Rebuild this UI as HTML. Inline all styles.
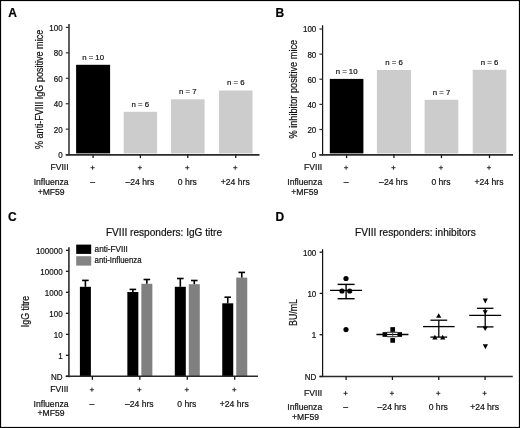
<!DOCTYPE html>
<html><head><meta charset="utf-8"><style>
html,body{margin:0;padding:0;background:#fff;}
body{width:520px;height:428px;overflow:hidden;}
svg{display:block;font-family:"Liberation Sans", sans-serif;filter:grayscale(1);}
text{stroke:#111;stroke-width:0.2px;}
</style></head><body>
<svg width="520" height="428" viewBox="0 0 520 428">
<rect x="0" y="0" width="520" height="428" fill="#fff"/>
<text x="8.20" y="17.10" font-size="12" text-anchor="start" font-weight="bold" fill="#000" >A</text>
<rect x="76.10" y="64.80" width="34.00" height="88.60" fill="#000"/>
<text x="93.10" y="59.79" font-size="7.8" text-anchor="middle" font-weight="normal" fill="#111" >n = 10</text>
<rect x="123.70" y="111.80" width="33.40" height="41.60" fill="#cccccc"/>
<text x="140.40" y="106.79" font-size="7.8" text-anchor="middle" font-weight="normal" fill="#111" >n = 6</text>
<rect x="171.00" y="99.30" width="33.60" height="54.10" fill="#cccccc"/>
<text x="187.80" y="94.29" font-size="7.8" text-anchor="middle" font-weight="normal" fill="#111" >n = 7</text>
<rect x="219.00" y="90.50" width="33.50" height="62.90" fill="#cccccc"/>
<text x="235.75" y="85.49" font-size="7.8" text-anchor="middle" font-weight="normal" fill="#111" >n = 6</text>
<line x1="69.00" y1="24.10" x2="69.00" y2="155.60" stroke="#444" stroke-width="1.7"/>
<line x1="65.80" y1="154.85" x2="259.50" y2="154.85" stroke="#2a2a2a" stroke-width="1.7"/>
<line x1="65.80" y1="154.60" x2="69.00" y2="154.60" stroke="#333" stroke-width="1.2"/>
<text x="62.70" y="157.98" font-size="8.6" text-anchor="end" font-weight="normal" fill="#111" textLength="4.45" lengthAdjust="spacingAndGlyphs">0</text>
<line x1="65.80" y1="129.16" x2="69.00" y2="129.16" stroke="#333" stroke-width="1.2"/>
<text x="62.70" y="132.54" font-size="8.6" text-anchor="end" font-weight="normal" fill="#111" textLength="8.90" lengthAdjust="spacingAndGlyphs">20</text>
<line x1="65.80" y1="103.72" x2="69.00" y2="103.72" stroke="#333" stroke-width="1.2"/>
<text x="62.70" y="107.10" font-size="8.6" text-anchor="end" font-weight="normal" fill="#111" textLength="8.90" lengthAdjust="spacingAndGlyphs">40</text>
<line x1="65.80" y1="78.28" x2="69.00" y2="78.28" stroke="#333" stroke-width="1.2"/>
<text x="62.70" y="81.66" font-size="8.6" text-anchor="end" font-weight="normal" fill="#111" textLength="8.90" lengthAdjust="spacingAndGlyphs">60</text>
<line x1="65.80" y1="52.84" x2="69.00" y2="52.84" stroke="#333" stroke-width="1.2"/>
<text x="62.70" y="56.22" font-size="8.6" text-anchor="end" font-weight="normal" fill="#111" textLength="8.90" lengthAdjust="spacingAndGlyphs">80</text>
<line x1="65.80" y1="27.40" x2="69.00" y2="27.40" stroke="#333" stroke-width="1.2"/>
<text x="62.70" y="30.78" font-size="8.6" text-anchor="end" font-weight="normal" fill="#111" textLength="13.34" lengthAdjust="spacingAndGlyphs">100</text>
<line x1="93.10" y1="154.60" x2="93.10" y2="158.10" stroke="#1a1a1a" stroke-width="1.3"/>
<line x1="140.40" y1="154.60" x2="140.40" y2="158.10" stroke="#1a1a1a" stroke-width="1.3"/>
<line x1="187.80" y1="154.60" x2="187.80" y2="158.10" stroke="#1a1a1a" stroke-width="1.3"/>
<line x1="235.75" y1="154.60" x2="235.75" y2="158.10" stroke="#1a1a1a" stroke-width="1.3"/>
<text x="68.60" y="170.08" font-size="8.6" text-anchor="end" font-weight="normal" fill="#111" >FVIII</text>
<text x="68.60" y="184.68" font-size="8.6" text-anchor="end" font-weight="normal" fill="#111" >Influenza</text>
<text x="51.15" y="194.78" font-size="8.6" text-anchor="middle" font-weight="normal" fill="#111" >+MF59</text>
<line x1="90.50" y1="167.70" x2="94.70" y2="167.70" stroke="#333" stroke-width="1.0"/>
<line x1="92.60" y1="165.60" x2="92.60" y2="169.80" stroke="#333" stroke-width="1.0"/>
<text x="92.60" y="184.68" font-size="8.6" text-anchor="middle" font-weight="normal" fill="#111" >–</text>
<line x1="137.80" y1="167.70" x2="142.00" y2="167.70" stroke="#333" stroke-width="1.0"/>
<line x1="139.90" y1="165.60" x2="139.90" y2="169.80" stroke="#333" stroke-width="1.0"/>
<text x="139.90" y="184.68" font-size="8.6" text-anchor="middle" font-weight="normal" fill="#111" >–24 hrs</text>
<line x1="185.20" y1="167.70" x2="189.40" y2="167.70" stroke="#333" stroke-width="1.0"/>
<line x1="187.30" y1="165.60" x2="187.30" y2="169.80" stroke="#333" stroke-width="1.0"/>
<text x="187.30" y="184.68" font-size="8.6" text-anchor="middle" font-weight="normal" fill="#111" >0 hrs</text>
<line x1="233.15" y1="167.70" x2="237.35" y2="167.70" stroke="#333" stroke-width="1.0"/>
<line x1="235.25" y1="165.60" x2="235.25" y2="169.80" stroke="#333" stroke-width="1.0"/>
<text x="235.25" y="184.68" font-size="8.6" text-anchor="middle" font-weight="normal" fill="#111" >+24 hrs</text>
<text x="0" y="0" font-size="10.2" text-anchor="middle" fill="#111" textLength="119.2" lengthAdjust="spacingAndGlyphs" transform="translate(43.00,89.40) rotate(-90)">% anti-FVIII IgG positive mice</text>
<text x="275.60" y="17.40" font-size="12" text-anchor="start" font-weight="bold" fill="#000" >B</text>
<rect x="329.80" y="78.90" width="33.60" height="74.50" fill="#000"/>
<text x="346.60" y="73.89" font-size="7.8" text-anchor="middle" font-weight="normal" fill="#111" >n = 10</text>
<rect x="376.90" y="70.00" width="34.10" height="83.40" fill="#cccccc"/>
<text x="393.95" y="64.99" font-size="7.8" text-anchor="middle" font-weight="normal" fill="#111" >n = 6</text>
<rect x="424.60" y="99.80" width="33.70" height="53.60" fill="#cccccc"/>
<text x="441.45" y="94.79" font-size="7.8" text-anchor="middle" font-weight="normal" fill="#111" >n = 7</text>
<rect x="472.70" y="69.80" width="33.60" height="83.60" fill="#cccccc"/>
<text x="489.50" y="64.79" font-size="7.8" text-anchor="middle" font-weight="normal" fill="#111" >n = 6</text>
<line x1="322.60" y1="25.20" x2="322.60" y2="155.60" stroke="#111" stroke-width="1.2"/>
<line x1="319.40" y1="154.85" x2="513.00" y2="154.85" stroke="#2a2a2a" stroke-width="1.7"/>
<line x1="319.40" y1="154.60" x2="322.60" y2="154.60" stroke="#333" stroke-width="1.2"/>
<text x="316.30" y="157.98" font-size="8.6" text-anchor="end" font-weight="normal" fill="#111" textLength="4.45" lengthAdjust="spacingAndGlyphs">0</text>
<line x1="319.40" y1="129.48" x2="322.60" y2="129.48" stroke="#333" stroke-width="1.2"/>
<text x="316.30" y="132.86" font-size="8.6" text-anchor="end" font-weight="normal" fill="#111" textLength="8.90" lengthAdjust="spacingAndGlyphs">20</text>
<line x1="319.40" y1="104.36" x2="322.60" y2="104.36" stroke="#333" stroke-width="1.2"/>
<text x="316.30" y="107.74" font-size="8.6" text-anchor="end" font-weight="normal" fill="#111" textLength="8.90" lengthAdjust="spacingAndGlyphs">40</text>
<line x1="319.40" y1="79.24" x2="322.60" y2="79.24" stroke="#333" stroke-width="1.2"/>
<text x="316.30" y="82.62" font-size="8.6" text-anchor="end" font-weight="normal" fill="#111" textLength="8.90" lengthAdjust="spacingAndGlyphs">60</text>
<line x1="319.40" y1="54.12" x2="322.60" y2="54.12" stroke="#333" stroke-width="1.2"/>
<text x="316.30" y="57.50" font-size="8.6" text-anchor="end" font-weight="normal" fill="#111" textLength="8.90" lengthAdjust="spacingAndGlyphs">80</text>
<line x1="319.40" y1="29.00" x2="322.60" y2="29.00" stroke="#333" stroke-width="1.2"/>
<text x="316.30" y="32.38" font-size="8.6" text-anchor="end" font-weight="normal" fill="#111" textLength="13.34" lengthAdjust="spacingAndGlyphs">100</text>
<line x1="346.60" y1="154.60" x2="346.60" y2="158.10" stroke="#1a1a1a" stroke-width="1.3"/>
<line x1="393.95" y1="154.60" x2="393.95" y2="158.10" stroke="#1a1a1a" stroke-width="1.3"/>
<line x1="441.45" y1="154.60" x2="441.45" y2="158.10" stroke="#1a1a1a" stroke-width="1.3"/>
<line x1="489.50" y1="154.60" x2="489.50" y2="158.10" stroke="#1a1a1a" stroke-width="1.3"/>
<text x="322.20" y="170.08" font-size="8.6" text-anchor="end" font-weight="normal" fill="#111" >FVIII</text>
<text x="322.20" y="184.68" font-size="8.6" text-anchor="end" font-weight="normal" fill="#111" >Influenza</text>
<text x="304.75" y="194.78" font-size="8.6" text-anchor="middle" font-weight="normal" fill="#111" >+MF59</text>
<line x1="344.00" y1="167.70" x2="348.20" y2="167.70" stroke="#333" stroke-width="1.0"/>
<line x1="346.10" y1="165.60" x2="346.10" y2="169.80" stroke="#333" stroke-width="1.0"/>
<text x="346.10" y="184.68" font-size="8.6" text-anchor="middle" font-weight="normal" fill="#111" >–</text>
<line x1="391.35" y1="167.70" x2="395.55" y2="167.70" stroke="#333" stroke-width="1.0"/>
<line x1="393.45" y1="165.60" x2="393.45" y2="169.80" stroke="#333" stroke-width="1.0"/>
<text x="393.45" y="184.68" font-size="8.6" text-anchor="middle" font-weight="normal" fill="#111" >–24 hrs</text>
<line x1="438.85" y1="167.70" x2="443.05" y2="167.70" stroke="#333" stroke-width="1.0"/>
<line x1="440.95" y1="165.60" x2="440.95" y2="169.80" stroke="#333" stroke-width="1.0"/>
<text x="440.95" y="184.68" font-size="8.6" text-anchor="middle" font-weight="normal" fill="#111" >0 hrs</text>
<line x1="486.90" y1="167.70" x2="491.10" y2="167.70" stroke="#333" stroke-width="1.0"/>
<line x1="489.00" y1="165.60" x2="489.00" y2="169.80" stroke="#333" stroke-width="1.0"/>
<text x="489.00" y="184.68" font-size="8.6" text-anchor="middle" font-weight="normal" fill="#111" >+24 hrs</text>
<text x="0" y="0" font-size="10.3" text-anchor="middle" fill="#111" textLength="98.75" lengthAdjust="spacingAndGlyphs" transform="translate(296.90,89.20) rotate(-90)">% inhibitor positive mice</text>
<text x="8.00" y="221.20" font-size="12" text-anchor="start" font-weight="bold" fill="#000" >C</text>
<text x="164.00" y="235.92" font-size="10.1" text-anchor="middle" font-weight="normal" fill="#111" >FVIII responders: IgG titre</text>
<rect x="76.20" y="244.60" width="15.00" height="9.30" fill="#000"/>
<rect x="76.20" y="256.20" width="15.00" height="9.40" fill="#838383"/>
<text x="94.60" y="251.54" font-size="8.2" text-anchor="start" font-weight="normal" fill="#111" >anti-FVIII</text>
<text x="94.60" y="263.34" font-size="8.2" text-anchor="start" font-weight="normal" fill="#111" textLength="47" lengthAdjust="spacingAndGlyphs">anti-Influenza</text>
<rect x="79.90" y="286.80" width="11.00" height="89.50" fill="#000"/>
<line x1="85.40" y1="286.80" x2="85.40" y2="280.40" stroke="#000" stroke-width="1.6"/>
<line x1="82.10" y1="280.40" x2="88.70" y2="280.40" stroke="#000" stroke-width="1.6"/>
<rect x="127.35" y="292.00" width="11.00" height="84.30" fill="#000"/>
<line x1="132.85" y1="292.00" x2="132.85" y2="289.40" stroke="#000" stroke-width="1.6"/>
<line x1="129.55" y1="289.40" x2="136.15" y2="289.40" stroke="#000" stroke-width="1.6"/>
<rect x="141.35" y="283.80" width="11.00" height="92.50" fill="#808080"/>
<line x1="146.85" y1="283.80" x2="146.85" y2="279.50" stroke="#000" stroke-width="1.6"/>
<line x1="143.55" y1="279.50" x2="150.15" y2="279.50" stroke="#000" stroke-width="1.6"/>
<rect x="174.80" y="286.80" width="11.00" height="89.50" fill="#000"/>
<line x1="180.30" y1="286.80" x2="180.30" y2="278.50" stroke="#000" stroke-width="1.6"/>
<line x1="177.00" y1="278.50" x2="183.60" y2="278.50" stroke="#000" stroke-width="1.6"/>
<rect x="188.80" y="284.20" width="11.00" height="92.10" fill="#808080"/>
<line x1="194.30" y1="284.20" x2="194.30" y2="280.50" stroke="#000" stroke-width="1.6"/>
<line x1="191.00" y1="280.50" x2="197.60" y2="280.50" stroke="#000" stroke-width="1.6"/>
<rect x="222.25" y="303.30" width="11.00" height="73.00" fill="#000"/>
<line x1="227.75" y1="303.30" x2="227.75" y2="297.20" stroke="#000" stroke-width="1.6"/>
<line x1="224.45" y1="297.20" x2="231.05" y2="297.20" stroke="#000" stroke-width="1.6"/>
<rect x="236.25" y="277.60" width="11.00" height="98.70" fill="#808080"/>
<line x1="241.75" y1="277.60" x2="241.75" y2="272.40" stroke="#000" stroke-width="1.6"/>
<line x1="238.45" y1="272.40" x2="245.05" y2="272.40" stroke="#000" stroke-width="1.6"/>
<line x1="68.90" y1="247.30" x2="68.90" y2="377.20" stroke="#444" stroke-width="1.8"/>
<line x1="65.70" y1="376.30" x2="258.00" y2="376.30" stroke="#2a2a2a" stroke-width="1.5"/>
<line x1="65.90" y1="376.30" x2="68.90" y2="376.30" stroke="#1a1a1a" stroke-width="1.3"/>
<text x="62.60" y="379.68" font-size="8.6" text-anchor="end" font-weight="normal" fill="#111" textLength="11.55" lengthAdjust="spacingAndGlyphs">ND</text>
<line x1="65.90" y1="355.30" x2="68.90" y2="355.30" stroke="#1a1a1a" stroke-width="1.3"/>
<text x="62.60" y="358.68" font-size="8.6" text-anchor="end" font-weight="normal" fill="#111" textLength="4.45" lengthAdjust="spacingAndGlyphs">1</text>
<line x1="65.90" y1="334.30" x2="68.90" y2="334.30" stroke="#1a1a1a" stroke-width="1.3"/>
<text x="62.60" y="337.68" font-size="8.6" text-anchor="end" font-weight="normal" fill="#111" textLength="8.90" lengthAdjust="spacingAndGlyphs">10</text>
<line x1="65.90" y1="313.30" x2="68.90" y2="313.30" stroke="#1a1a1a" stroke-width="1.3"/>
<text x="62.60" y="316.68" font-size="8.6" text-anchor="end" font-weight="normal" fill="#111" textLength="13.34" lengthAdjust="spacingAndGlyphs">100</text>
<line x1="65.90" y1="292.30" x2="68.90" y2="292.30" stroke="#1a1a1a" stroke-width="1.3"/>
<text x="62.60" y="295.68" font-size="8.6" text-anchor="end" font-weight="normal" fill="#111" textLength="17.79" lengthAdjust="spacingAndGlyphs">1000</text>
<line x1="65.90" y1="271.30" x2="68.90" y2="271.30" stroke="#1a1a1a" stroke-width="1.3"/>
<text x="62.60" y="274.68" font-size="8.6" text-anchor="end" font-weight="normal" fill="#111" textLength="22.24" lengthAdjust="spacingAndGlyphs">10000</text>
<line x1="65.90" y1="250.30" x2="68.90" y2="250.30" stroke="#1a1a1a" stroke-width="1.3"/>
<text x="62.60" y="253.68" font-size="8.6" text-anchor="end" font-weight="normal" fill="#111" textLength="26.69" lengthAdjust="spacingAndGlyphs">100000</text>
<line x1="92.40" y1="376.30" x2="92.40" y2="379.80" stroke="#1a1a1a" stroke-width="1.3"/>
<line x1="139.85" y1="376.30" x2="139.85" y2="379.80" stroke="#1a1a1a" stroke-width="1.3"/>
<line x1="187.30" y1="376.30" x2="187.30" y2="379.80" stroke="#1a1a1a" stroke-width="1.3"/>
<line x1="234.75" y1="376.30" x2="234.75" y2="379.80" stroke="#1a1a1a" stroke-width="1.3"/>
<text x="68.50" y="392.08" font-size="8.6" text-anchor="end" font-weight="normal" fill="#111" >FVIII</text>
<text x="68.50" y="406.78" font-size="8.6" text-anchor="end" font-weight="normal" fill="#111" >Influenza</text>
<text x="51.05" y="416.08" font-size="8.6" text-anchor="middle" font-weight="normal" fill="#111" >+MF59</text>
<line x1="89.80" y1="389.70" x2="94.00" y2="389.70" stroke="#333" stroke-width="1.0"/>
<line x1="91.90" y1="387.60" x2="91.90" y2="391.80" stroke="#333" stroke-width="1.0"/>
<text x="91.90" y="406.78" font-size="8.6" text-anchor="middle" font-weight="normal" fill="#111" >–</text>
<line x1="137.25" y1="389.70" x2="141.45" y2="389.70" stroke="#333" stroke-width="1.0"/>
<line x1="139.35" y1="387.60" x2="139.35" y2="391.80" stroke="#333" stroke-width="1.0"/>
<text x="139.35" y="406.78" font-size="8.6" text-anchor="middle" font-weight="normal" fill="#111" >–24 hrs</text>
<line x1="184.70" y1="389.70" x2="188.90" y2="389.70" stroke="#333" stroke-width="1.0"/>
<line x1="186.80" y1="387.60" x2="186.80" y2="391.80" stroke="#333" stroke-width="1.0"/>
<text x="186.80" y="406.78" font-size="8.6" text-anchor="middle" font-weight="normal" fill="#111" >0 hrs</text>
<line x1="232.15" y1="389.70" x2="236.35" y2="389.70" stroke="#333" stroke-width="1.0"/>
<line x1="234.25" y1="387.60" x2="234.25" y2="391.80" stroke="#333" stroke-width="1.0"/>
<text x="234.25" y="406.78" font-size="8.6" text-anchor="middle" font-weight="normal" fill="#111" >+24 hrs</text>
<text x="0" y="0" font-size="10" text-anchor="middle" fill="#111" textLength="31.4" lengthAdjust="spacingAndGlyphs" transform="translate(28.85,311.50) rotate(-90)">IgG titre</text>
<text x="275.50" y="221.30" font-size="12" text-anchor="start" font-weight="bold" fill="#000" >D</text>
<text x="415.40" y="236.32" font-size="10.1" text-anchor="middle" font-weight="normal" fill="#111" >FVIII responders: inhibitors</text>
<line x1="322.60" y1="249.20" x2="322.60" y2="377.10" stroke="#111" stroke-width="1.2"/>
<line x1="319.40" y1="376.50" x2="512.80" y2="376.50" stroke="#2a2a2a" stroke-width="1.5"/>
<line x1="319.60" y1="376.50" x2="322.60" y2="376.50" stroke="#1a1a1a" stroke-width="1.3"/>
<text x="316.30" y="379.88" font-size="8.6" text-anchor="end" font-weight="normal" fill="#111" textLength="11.55" lengthAdjust="spacingAndGlyphs">ND</text>
<line x1="319.60" y1="334.70" x2="322.60" y2="334.70" stroke="#1a1a1a" stroke-width="1.3"/>
<text x="316.30" y="338.08" font-size="8.6" text-anchor="end" font-weight="normal" fill="#111" textLength="4.45" lengthAdjust="spacingAndGlyphs">1</text>
<line x1="319.60" y1="293.40" x2="322.60" y2="293.40" stroke="#1a1a1a" stroke-width="1.3"/>
<text x="316.30" y="296.78" font-size="8.6" text-anchor="end" font-weight="normal" fill="#111" textLength="8.90" lengthAdjust="spacingAndGlyphs">10</text>
<line x1="319.60" y1="252.20" x2="322.60" y2="252.20" stroke="#1a1a1a" stroke-width="1.3"/>
<text x="316.30" y="255.58" font-size="8.6" text-anchor="end" font-weight="normal" fill="#111" textLength="13.34" lengthAdjust="spacingAndGlyphs">100</text>
<line x1="346.10" y1="376.50" x2="346.10" y2="380.00" stroke="#1a1a1a" stroke-width="1.3"/>
<line x1="392.43" y1="376.50" x2="392.43" y2="380.00" stroke="#1a1a1a" stroke-width="1.3"/>
<line x1="438.76" y1="376.50" x2="438.76" y2="380.00" stroke="#1a1a1a" stroke-width="1.3"/>
<line x1="485.09" y1="376.50" x2="485.09" y2="380.00" stroke="#1a1a1a" stroke-width="1.3"/>
<text x="322.20" y="395.68" font-size="8.6" text-anchor="end" font-weight="normal" fill="#111" >FVIII</text>
<text x="322.20" y="409.68" font-size="8.6" text-anchor="end" font-weight="normal" fill="#111" >Influenza</text>
<text x="305.55" y="419.58" font-size="8.6" text-anchor="middle" font-weight="normal" fill="#111" >+MF59</text>
<line x1="343.50" y1="393.30" x2="347.70" y2="393.30" stroke="#333" stroke-width="1.0"/>
<line x1="345.60" y1="391.20" x2="345.60" y2="395.40" stroke="#333" stroke-width="1.0"/>
<text x="345.60" y="409.68" font-size="8.6" text-anchor="middle" font-weight="normal" fill="#111" >–</text>
<line x1="389.83" y1="393.30" x2="394.03" y2="393.30" stroke="#333" stroke-width="1.0"/>
<line x1="391.93" y1="391.20" x2="391.93" y2="395.40" stroke="#333" stroke-width="1.0"/>
<text x="391.93" y="409.68" font-size="8.6" text-anchor="middle" font-weight="normal" fill="#111" >–24 hrs</text>
<line x1="436.16" y1="393.30" x2="440.36" y2="393.30" stroke="#333" stroke-width="1.0"/>
<line x1="438.26" y1="391.20" x2="438.26" y2="395.40" stroke="#333" stroke-width="1.0"/>
<text x="438.26" y="409.68" font-size="8.6" text-anchor="middle" font-weight="normal" fill="#111" >0 hrs</text>
<line x1="482.49" y1="393.30" x2="486.69" y2="393.30" stroke="#333" stroke-width="1.0"/>
<line x1="484.59" y1="391.20" x2="484.59" y2="395.40" stroke="#333" stroke-width="1.0"/>
<text x="484.59" y="409.68" font-size="8.6" text-anchor="middle" font-weight="normal" fill="#111" >+24 hrs</text>
<text x="0" y="0" font-size="10" text-anchor="middle" fill="#111" textLength="26.9" lengthAdjust="spacingAndGlyphs" transform="translate(296.85,312.55) rotate(-90)">BU/mL</text>
<line x1="330.10" y1="290.40" x2="362.10" y2="290.40" stroke="#000" stroke-width="1.4"/>
<line x1="346.10" y1="284.40" x2="346.10" y2="298.70" stroke="#000" stroke-width="1.4"/>
<line x1="337.60" y1="284.40" x2="354.60" y2="284.40" stroke="#000" stroke-width="1.4"/>
<line x1="337.60" y1="298.70" x2="354.60" y2="298.70" stroke="#000" stroke-width="1.4"/>
<circle cx="346" cy="278.5" r="2.6" fill="#000"/>
<circle cx="342" cy="291" r="2.6" fill="#000"/>
<circle cx="349.7" cy="291" r="2.6" fill="#000"/>
<circle cx="346" cy="329.6" r="2.6" fill="#000"/>
<line x1="376.43" y1="334.50" x2="408.43" y2="334.50" stroke="#000" stroke-width="1.3"/>
<rect x="390.35" y="327.15" width="4.70" height="4.70" fill="#000"/>
<rect x="390.35" y="338.05" width="4.70" height="4.70" fill="#000"/>
<rect x="382.55" y="332.15" width="4.70" height="4.70" fill="#000"/>
<rect x="397.35" y="332.15" width="4.70" height="4.70" fill="#000"/>
<line x1="387.00" y1="332.30" x2="397.50" y2="332.30" stroke="#000" stroke-width="1.0"/>
<line x1="387.00" y1="336.70" x2="397.50" y2="336.70" stroke="#000" stroke-width="1.0"/>
<line x1="387.20" y1="333.30" x2="397.30" y2="333.30" stroke="#fff" stroke-width="0.9"/>
<line x1="387.20" y1="335.70" x2="397.30" y2="335.70" stroke="#fff" stroke-width="0.9"/>
<line x1="392.70" y1="331.80" x2="392.70" y2="337.20" stroke="#444" stroke-width="0.9"/>
<line x1="423.00" y1="326.60" x2="454.60" y2="326.60" stroke="#000" stroke-width="1.3"/>
<line x1="430.40" y1="320.20" x2="447.20" y2="320.20" stroke="#000" stroke-width="1.3"/>
<line x1="430.40" y1="337.10" x2="447.20" y2="337.10" stroke="#000" stroke-width="1.3"/>
<line x1="438.80" y1="320.20" x2="438.80" y2="337.10" stroke="#000" stroke-width="1.3"/>
<polygon points="438.7,313.2 441.3,317.8 436.09999999999997,317.8" fill="#000"/>
<polygon points="434.9,334.8 437.5,339.5 432.29999999999995,339.5" fill="#000"/>
<polygon points="442.7,334.8 445.3,339.5 440.09999999999997,339.5" fill="#000"/>
<line x1="469.20" y1="315.30" x2="501.20" y2="315.30" stroke="#000" stroke-width="1.3"/>
<line x1="476.90" y1="308.30" x2="493.50" y2="308.30" stroke="#000" stroke-width="1.3"/>
<line x1="476.90" y1="326.90" x2="493.50" y2="326.90" stroke="#000" stroke-width="1.3"/>
<line x1="485.20" y1="308.30" x2="485.20" y2="326.90" stroke="#000" stroke-width="1.3"/>
<polygon points="482.7,298.5 487.90000000000003,298.5 485.3,303.5" fill="#000"/>
<polygon points="482.59999999999997,310.2 487.8,310.2 485.2,314.6" fill="#000"/>
<polygon points="482.59999999999997,326.6 487.8,326.6 485.2,331.0" fill="#000"/>
<polygon points="482.79999999999995,344.3 488.0,344.3 485.4,349.3" fill="#000"/>
<rect x="0.5" y="0.5" width="519" height="427" fill="none" stroke="#000" stroke-width="1.2"/>
</svg>
</body></html>
